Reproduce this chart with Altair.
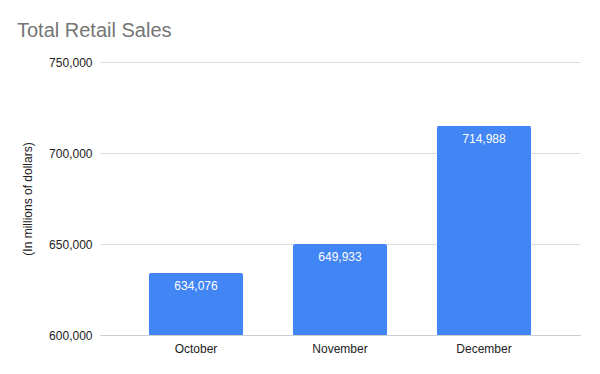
import altair as alt
import pandas as pd

months = ["October", "November", "December"]
sales = [634076, 649933, 714988]
y_ticks = [600000, 650000, 700000, 750000]

df = pd.DataFrame({"month": months, "sales": sales})

FONT = "Liberation Sans"

x = alt.X("month:N", sort=months, title=None,
          scale=alt.Scale(paddingInner=0.347, paddingOuter=0.34),
          axis=alt.Axis(labelAngle=0, labelFontSize=12, labelColor="#222222", labelFont=FONT,
                        ticks=False, domain=True, domainColor="#cccccc", labelPadding=8))
y = alt.Y("sales:Q", title="(In millions of dollars)",
          scale=alt.Scale(domain=[600000, 750000], nice=False, zero=False, clamp=True),
          axis=alt.Axis(values=y_ticks, format=",.0f", labelFontSize=12, labelColor="#222222",
                        labelFont=FONT, ticks=False, domain=False, labelPadding=8,
                        gridColor="#dddddd", titleFont=FONT, titleFontSize=12,
                        titleFontWeight="normal", titleColor="#222222", titlePadding=14))

bars = alt.Chart(df).mark_bar(color="#4285F4", cornerRadiusTopLeft=2, cornerRadiusTopRight=2).encode(x=x, y=y)
labels = alt.Chart(df).mark_text(color="white", fontSize=12, font=FONT, baseline="top", dy=8).encode(
    x=alt.X("month:N", sort=months), y="sales:Q", text=alt.Text("sales:Q", format=",.0f"))

chart = (bars + labels).properties(
    width=480, height=273,
    title=alt.TitleParams("Total Retail Sales", anchor="start", frame="group", dx=-83, offset=15,
                          fontSize=20, font=FONT, fontWeight="normal", color="#757575"),
    autosize=alt.AutoSizeParams(type="none"),
    padding={"left": 92, "top": 54, "right": 12, "bottom": 30},
).configure_view(stroke=None)

chart.save("out.html", embed_options={"renderer": "svg", "actions": False})
